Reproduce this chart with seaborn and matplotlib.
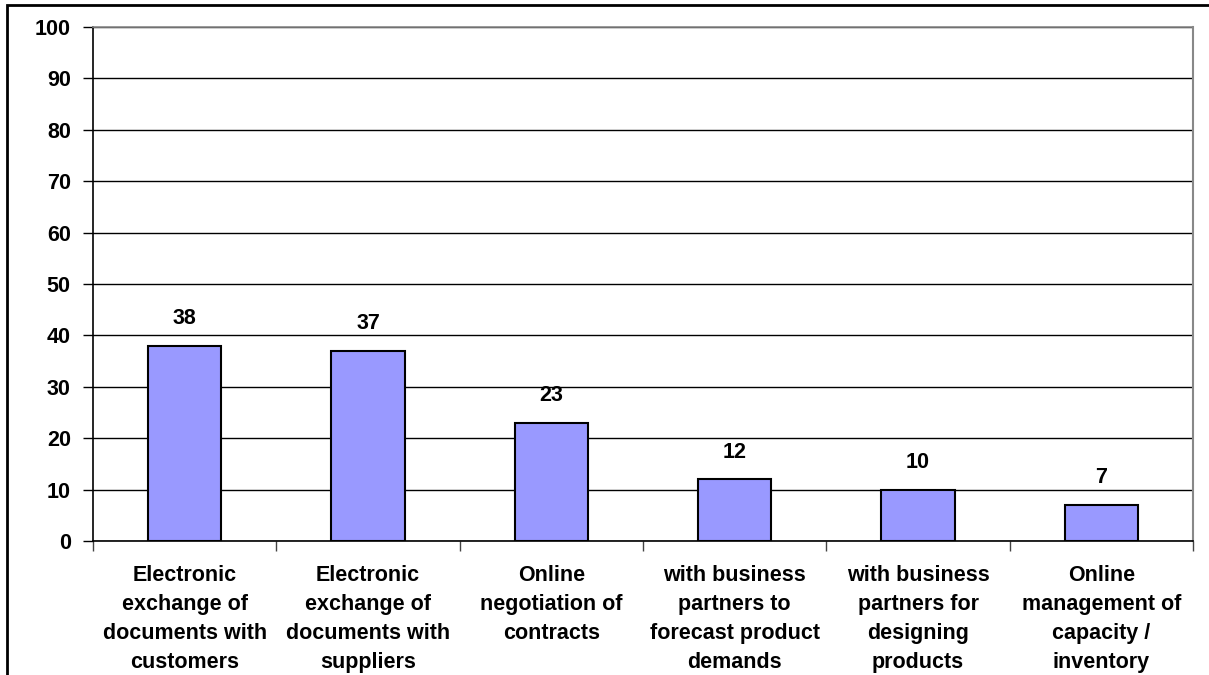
import matplotlib
matplotlib.use("Agg")
import matplotlib.pyplot as plt
from matplotlib.patches import Rectangle
from matplotlib.ticker import FixedLocator, NullFormatter
import seaborn as sns

categories = [
    "Electronic\nexchange of\ndocuments with\ncustomers",
    "Electronic\nexchange of\ndocuments with\nsuppliers",
    "Online\nnegotiation of\ncontracts",
    "with business\npartners to\nforecast product\ndemands",
    "with business\npartners for\ndesigning\nproducts",
    "Online\nmanagement of\ncapacity /\ninventory",
]
values = [38, 37, 23, 12, 10, 7]
y_ticks = [0, 10, 20, 30, 40, 50, 60, 70, 80, 90, 100]

sns.set_style("white")
plt.rcParams["font.family"] = ["Liberation Sans", "DejaVu Sans"]
plt.rcParams["font.weight"] = "bold"
plt.rcParams["text.color"] = "black"
plt.rcParams["xtick.color"] = "black"
plt.rcParams["ytick.color"] = "black"
plt.rcParams["xtick.labelcolor"] = "black"
plt.rcParams["ytick.labelcolor"] = "black"

FS = 15.5

fig = plt.figure(figsize=(12.09, 6.75), dpi=100)
ax = fig.add_axes([93 / 1209, 1 - 541 / 675, 1100 / 1209, 514 / 675])

order = list(range(len(categories)))
sns.barplot(x=order, y=values, ax=ax, width=0.4, color="#9999FF",
            edgecolor="black", linewidth=1.5, saturation=1, zorder=3)

ax.set_xlim(-0.5, len(categories) - 0.5)
ax.set_ylim(0, 100)
ax.set_yticks(y_ticks)
ax.set_yticklabels([str(t) for t in y_ticks], fontsize=FS, fontweight="bold",
                   color="black")

ax.yaxis.grid(True, color="black", linewidth=1)
ax.xaxis.grid(False)
ax.set_axisbelow(True)

ax.set_xticks(order)
ax.set_xticklabels(categories, fontsize=FS, fontweight="bold",
                   linespacing=1.5, va="top", color="black")
ax.tick_params(axis="x", which="major", length=0, pad=17)
ax.xaxis.set_minor_locator(FixedLocator([i - 0.5 for i in range(len(categories) + 1)]))
ax.xaxis.set_minor_formatter(NullFormatter())
ax.tick_params(axis="x", which="minor", length=7, width=1, color="#444444",
               direction="out", bottom=True)
ax.tick_params(axis="y", length=7, width=1, color="black", direction="out",
               left=True, pad=9)

for side in ["left", "bottom"]:
    ax.spines[side].set_color("black")
    ax.spines[side].set_linewidth(1.2)
ax.spines["right"].set_color("#888888")
ax.spines["right"].set_linewidth(1.5)
ax.spines["top"].set_color("#888888")
ax.spines["top"].set_linewidth(1.2)

ax.set_xlabel("")
ax.set_ylabel("")

for i, v in enumerate(values):
    ax.annotate(str(v), xy=(i, v), xytext=(0, 12), textcoords="offset points",
                ha="center", va="bottom", fontsize=FS, fontweight="bold",
                color="black")

# outer chart frame
fig.patches.append(Rectangle((7 / 1209, -0.1), 1.2, 1 - 5 / 675 + 0.1,
                             transform=fig.transFigure, fill=False,
                             edgecolor="black", linewidth=2, zorder=10))

fig.savefig("out.png", dpi=100, facecolor="white")
